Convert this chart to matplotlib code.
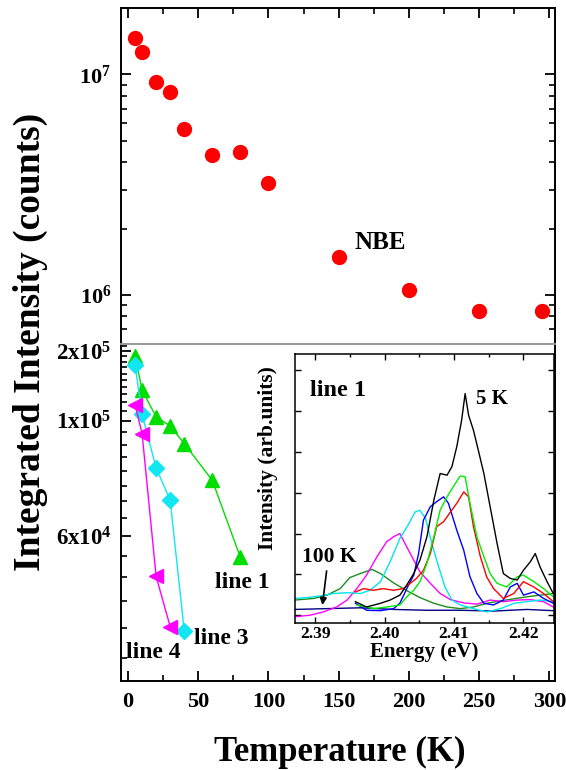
import matplotlib.pyplot as plt
import numpy as np
from matplotlib.ticker import FixedLocator, MultipleLocator, NullFormatter

plt.rcParams["font.family"] = ["Liberation Serif", "DejaVu Serif"]
plt.rcParams["font.weight"] = "bold"
plt.rcParams["axes.labelweight"] = "bold"
plt.rcParams["mathtext.fontset"] = "custom"
plt.rcParams["mathtext.rm"] = "Liberation Serif:bold"
plt.rcParams["mathtext.bf"] = "Liberation Serif:bold"
plt.rcParams["mathtext.it"] = "Liberation Serif:bold:italic"
plt.rcParams["mathtext.default"] = "bf"

# NBE integrated intensity (top panel)
temp_nbe = [5, 10, 20, 30, 40, 60, 80, 100, 150, 200, 250, 295]
int_nbe = [1.47e7, 1.26e7, 9.2e6, 8.3e6, 5.65e6, 4.3e6, 4.45e6, 3.23e6,
           1.49e6, 1.05e6, 8.5e5, 8.5e5]

# line 1 / line 3 / line 4 (bottom panel)
temp_l1 = [5, 10, 20, 30, 40, 60, 80]
int_l1 = [1.91e5, 1.355e5, 1.04e5, 9.77e4, 9.04e4, 7.68e4, 5.46e4]
temp_l3 = [5, 10, 20, 30, 40]
int_l3 = [1.744e5, 1.067e5, 8.12e4, 7.03e4, 3.95e4]
temp_l4 = [5, 10, 20, 30]
int_l4 = [1.167e5, 9.45e4, 5.02e4, 4.02e4]

# inset spectra of line 1 (energy in eV, intensity in arb. units)
e_black = [2.3958, 2.3974, 2.3994, 2.4008, 2.4022, 2.4032, 2.4042, 2.4051, 2.4061,
           2.4071, 2.4080, 2.4090, 2.4097, 2.4104, 2.4111, 2.4116, 2.4121, 2.4128,
           2.4135, 2.4143, 2.4152, 2.4162, 2.4171, 2.4181, 2.4191, 2.4200, 2.4210,
           2.4217, 2.4224, 2.4234, 2.4243]
i_black = [0.33, 0.20, 0.29, 0.37, 0.49, 0.74, 1.02, 1.35, 1.92, 2.82, 3.47, 3.43,
           3.64, 4.13, 4.78, 5.43, 4.90, 4.53, 4.04, 3.47, 2.66, 1.76, 1.02, 0.90,
           0.86, 1.10, 1.31, 1.51, 1.18, 0.82, 0.53]
e_lime = [2.3960, 2.3984, 2.4003, 2.4022, 2.4032, 2.4042, 2.4051, 2.4061, 2.4071,
          2.4080, 2.4090, 2.4099, 2.4109, 2.4116, 2.4123, 2.4133, 2.4143, 2.4152,
          2.4162, 2.4176, 2.4191, 2.4200, 2.4215, 2.4229, 2.4243]
i_lime = [0.25, 0.16, 0.20, 0.25, 0.45, 0.61, 0.82, 1.27, 1.92, 2.57, 2.90, 3.15,
          3.41, 3.39, 2.74, 1.92, 1.43, 1.02, 0.78, 0.69, 0.94, 0.98, 0.82, 0.65, 0.45]
e_red = [2.3958, 2.3970, 2.3984, 2.3998, 2.4013, 2.4027, 2.4037, 2.4046, 2.4056,
         2.4066, 2.4075, 2.4085, 2.4095, 2.4104, 2.4114, 2.4121, 2.4128, 2.4138,
         2.4147, 2.4157, 2.4171, 2.4186, 2.4200, 2.4215, 2.4229, 2.4243]
i_red = [0.57, 0.65, 0.61, 0.65, 0.61, 0.65, 0.78, 0.90, 1.10, 1.51, 2.17, 2.29,
         2.53, 2.74, 3.02, 2.90, 2.17, 1.43, 0.94, 0.65, 0.41, 0.53, 0.82, 0.69,
         0.53, 0.33]
e_blue = [2.3958, 2.3974, 2.3994, 2.4013, 2.4022, 2.4032, 2.4042, 2.4049, 2.4056,
          2.4066, 2.4075, 2.4085, 2.4092, 2.4104, 2.4114, 2.4123, 2.4133, 2.4143,
          2.4157, 2.4171, 2.4181, 2.4191, 2.4200, 2.4215, 2.4229, 2.4243]
i_blue = [0.29, 0.12, 0.11, 0.16, 0.29, 0.65, 0.98, 1.51, 2.33, 2.66, 2.78, 2.90,
          2.74, 2.08, 1.59, 0.94, 0.53, 0.29, 0.25, 0.37, 0.69, 0.78, 0.49, 0.57,
          0.41, 0.29]
e_cyan = [2.3871, 2.3888, 2.3907, 2.3926, 2.3946, 2.3965, 2.3979, 2.3994, 2.4008,
          2.4022, 2.4034, 2.4044, 2.4051, 2.4059, 2.4068, 2.4078, 2.4087, 2.4097,
          2.4109, 2.4128, 2.4147, 2.4167, 2.4186, 2.4205, 2.4224, 2.4243]
i_cyan = [0.41, 0.43, 0.47, 0.53, 0.55, 0.53, 0.61, 0.82, 1.31, 1.88, 2.21, 2.53,
          2.57, 2.37, 1.76, 1.18, 0.69, 0.37, 0.25, 0.16, 0.08, 0.16, 0.29, 0.33,
          0.37, 0.33]
e_magenta = [2.3871, 2.3893, 2.3912, 2.3931, 2.3946, 2.3960, 2.3974, 2.3989, 2.4003,
             2.4013, 2.4022, 2.4032, 2.4042, 2.4051, 2.4066, 2.4080, 2.4095, 2.4114,
             2.4133, 2.4152, 2.4171, 2.4191, 2.4210, 2.4229, 2.4243]
i_magenta = [-0.04, 0.00, 0.08, 0.20, 0.37, 0.65, 0.98, 1.43, 1.80, 1.92, 2.00, 1.67,
             1.35, 1.06, 0.78, 0.53, 0.38, 0.30, 0.27, 0.37, 0.33, 0.37, 0.38, 0.33,
             0.20]
e_dgreen = [2.3871, 2.3898, 2.3917, 2.3936, 2.3950, 2.3965, 2.3982, 2.3994, 2.4013,
            2.4032, 2.4051, 2.4071, 2.4090, 2.4109, 2.4128, 2.4147, 2.4167, 2.4186,
            2.4205, 2.4224, 2.4243]
i_dgreen = [0.37, 0.41, 0.49, 0.65, 0.92, 1.02, 1.12, 1.02, 0.79, 0.60, 0.43, 0.29,
            0.20, 0.16, 0.20, 0.29, 0.35, 0.40, 0.45, 0.49, 0.53]
e_navy = [2.3871, 2.3917, 2.3965, 2.4013, 2.4061, 2.4109, 2.4157, 2.4205, 2.4243]
i_navy = [0.14, 0.16, 0.18, 0.14, 0.12, 0.12, 0.10, 0.14, 0.11]

# bottom axis in the original is log-like but stretched below 1x10^5
UP, LOW = 231.0, 519.0


def fwd(v):
    t = np.log10(np.clip(np.asarray(v, float), 1e-30, None)) - 5
    return np.where(t >= 0, t * UP, t * LOW)


def inv(s):
    s = np.asarray(s, float)
    return 10 ** (5 + np.where(s >= 0, s / UP, s / LOW))


fig = plt.figure(figsize=(5.66, 7.70), dpi=100)
ax1 = fig.add_axes([0.2138, 0.5532, 0.7668, 0.4364])
ax2 = fig.add_axes([0.2138, 0.1156, 0.7668, 0.4376])

# top panel
ax1.plot(temp_nbe, int_nbe, "o", color="#ff0000", ms=10, mec="#ff0000")
ax1.set_yscale("log")
ax1.set_xlim(-5, 304)
ax1.set_ylim(6.0e5, 2.0e7)
ax1.set_yticks([1e6, 1e7])
ax1.set_yticklabels(["$10^{6}$", "$10^{7}$"])
ax1.yaxis.set_minor_locator(FixedLocator([k * 10 ** d for d in (5, 6) for k in range(2, 10)]))
ax1.yaxis.set_minor_formatter(NullFormatter())
ax1.xaxis.set_major_locator(MultipleLocator(50))
ax1.xaxis.set_minor_locator(MultipleLocator(25))
ax1.tick_params(axis="x", which="both", direction="in", top=True, bottom=False,
                labeltop=False, labelbottom=False)
ax1.tick_params(axis="y", which="both", direction="in", left=True, right=True,
                labelsize=16, pad=7)
ax1.tick_params(which="major", length=7, width=1.3)
ax1.tick_params(which="minor", length=4, width=1.2)
ax1.spines["bottom"].set_color("#999999")
ax1.text(161, 1.74e6, "NBE", fontsize=18, va="center", ha="left")

# bottom panel
ax2.plot(temp_l1, int_l1, "-^", color="#00dd00", lw=1, ms=10.5, mec="#00dd00")
ax2.plot(temp_l3, int_l3, "-D", color="#11e6f2", lw=1, ms=8.5, mec="#11e6f2")
ax2.plot(temp_l4, int_l4, "-<", color="#ff00ff", lw=1, ms=10.5, mec="#ff00ff")
ax2.set_yscale("function", functions=(fwd, inv))
ax2.set_xlim(-5, 304)
ax2.set_ylim(3.16e4, 2.145e5)
ax2.yaxis.set_major_locator(FixedLocator([6e4, 1e5, 2e5]))
ax2.set_yticklabels(["$6x10^{4}$", "$1x10^{5}$", "$2x10^{5}$"])
minor_vals = list(np.arange(1.1e5, 2.15e5, 1e4)) + list(np.arange(3.5e4, 1.0e5, 5e3))
ax2.yaxis.set_minor_locator(FixedLocator(minor_vals))
ax2.yaxis.set_minor_formatter(NullFormatter())
ax2.xaxis.set_major_locator(MultipleLocator(50))
ax2.xaxis.set_minor_locator(MultipleLocator(25))
ax2.tick_params(axis="x", which="both", direction="in", top=False, bottom=True,
                labelsize=16, pad=8)
ax2.tick_params(axis="y", which="both", direction="in", left=True, right=False,
                labelsize=16.5, pad=7)
ax2.tick_params(which="major", length=7, width=1.3)
ax2.tick_params(which="minor", length=4, width=1.2)
ax2.spines["top"].set_color("#999999")
ax2.text(62, 4.88e4, "line 1", fontsize=17, va="center", ha="left")
ax2.text(47, 3.82e4, "line 3", fontsize=17, va="center", ha="left")
ax2.text(-1.5, 3.58e4, "line 4", fontsize=17, va="center", ha="left")

for ax in (ax1, ax2):
    for s in ax.spines.values():
        s.set_linewidth(1.4)

fig.text(0.053, 1 - 342 / 770, "Integrated Intensity (counts)", rotation=90,
         fontsize=27, ha="center", va="center")
fig.text(0.601, 1 - 752 / 770, "Temperature (K)", fontsize=25, ha="center", va="center")

# inset
axins = fig.add_axes([0.5212, 0.1905, 0.4576, 0.3498])
axins.plot(e_navy, i_navy, color="#000080", lw=1)
axins.plot(e_dgreen, i_dgreen, color="#1e8c1e", lw=1)
axins.plot(e_magenta, i_magenta, color="#ff00ff", lw=1)
axins.plot(e_cyan, i_cyan, color="#00e5ee", lw=1)
axins.plot(e_blue, i_blue, color="#0000ff", lw=1)
axins.plot(e_red, i_red, color="#ff0000", lw=1)
axins.plot(e_lime, i_lime, color="#00ee00", lw=1)
axins.plot(e_black, i_black, color="#000000", lw=1)
axins.set_xlim(2.3871, 2.4244)
axins.set_ylim(-0.2, 6.4)
axins.xaxis.set_major_locator(MultipleLocator(0.01))
axins.xaxis.set_minor_locator(MultipleLocator(0.005))
axins.yaxis.set_major_locator(MultipleLocator(1))
axins.xaxis.set_major_formatter(plt.FormatStrFormatter("%.2f"))
axins.tick_params(which="both", direction="in", top=True, right=True,
                  labelleft=False, labelsize=12.5, pad=2)
axins.tick_params(which="major", length=4, width=1)
axins.tick_params(which="minor", length=2.5, width=1)
axins.set_xlabel("Energy (eV)", fontsize=15, labelpad=0)
axins.set_ylabel("Intensity (arb.units)", fontsize=15.5)
axins.yaxis.set_label_coords(-0.064, 0.614)
for s in axins.spines.values():
    s.set_linewidth(1.1)
axins.text(2.3893, 5.51, "line 1", fontsize=17.5, va="center", ha="left")
axins.text(2.4131, 5.29, "5 K", fontsize=15, va="center", ha="left")
axins.text(2.3881, 1.43, "100 K", fontsize=15.5, va="center", ha="left")
axins.annotate("", xy=(2.3910, 0.18), xytext=(2.3917, 1.15),
               arrowprops=dict(arrowstyle="-|>", color="black", lw=1.2,
                               mutation_scale=10))

fig.savefig("out.png", dpi=100)
